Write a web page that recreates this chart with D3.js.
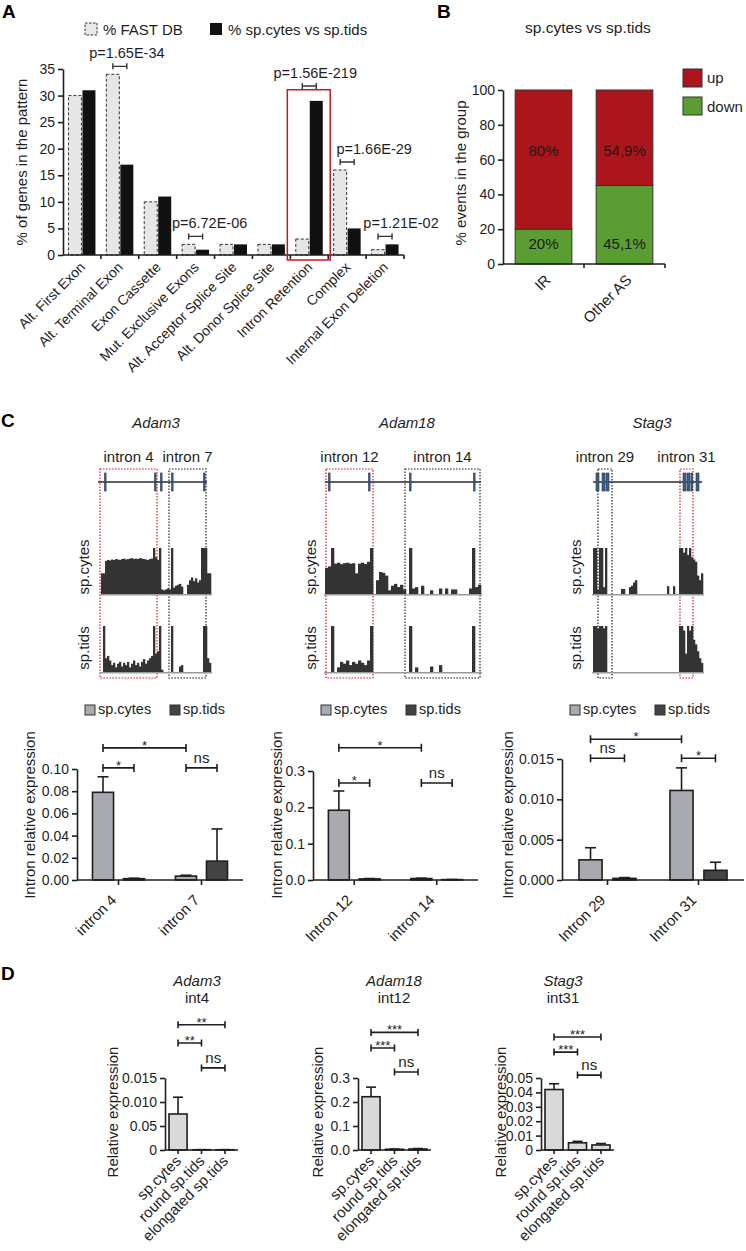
<!DOCTYPE html>
<html><head><meta charset="utf-8">
<script src="https://cdn.jsdelivr.net/npm/d3@7"></script>
<style>body{margin:0;background:#fff} svg{display:block}</style>
</head><body><svg id="fig" width="746" height="1251"></svg>
<script>
// ================= DATA =================
// Panel A
const aCategories = ["Alt. First Exon","Alt. Terminal Exon","Exon Cassette","Mut. Exclusive Exons","Alt. Acceptor Splice Site","Alt. Donor Splice Site","Intron Retention","Complex","Internal Exon Deletion"];
const aSeries = ["% FAST DB","% sp.cytes vs sp.tids"];
const aFastDB = [30,34,10,2,2,2,3,16,1];
const aCytesVsTids = [31,17,11,1,2,2,29,5,2];
const aYTicks = [0,5,10,15,20,25,30,35];
const aPValues = [
  {category:"Alt. Terminal Exon", label:"p=1.65E-34"},
  {category:"Mut. Exclusive Exons", label:"p=6.72E-06"},
  {category:"Intron Retention", label:"p=1.56E-219"},
  {category:"Complex", label:"p=1.66E-29"},
  {category:"Internal Exon Deletion", label:"p=1.21E-02"}
];
const aHighlight = "Intron Retention";

// Panel B
const bTitle = "sp.cytes vs sp.tids";
const bCategories = ["IR","Other AS"];
const bSeries = ["up","down"];
const bUp = [80,54.9];
const bDown = [20,45.1];
const bUpLabels = ["80%","54,9%"];
const bDownLabels = ["20%","45,1%"];
const bYTicks = [0,20,40,60,80,100];

// Panel C - gene tracks (genomic units, coverage in % of track max)
const adam3Length = 110, adam3Span = [-3,106];
const adam3Exons = [[3.5,5],[53.5,55],[59.5,61],[70.5,72],[102.5,104]];
const adam3Introns = [{name:"intron 4", span:[-1,56], hl:true},{name:"intron 7", span:[68,105], hl:false}];
const adam3CovCytes = [45,45,72,74,73,75,74,76,75,74,76,77,75,76,77,78,76,77,76,78,77,76,75,74,76,77,100,80,74,100,10,8,10,12,10,100,14,18,20,22,16,0,0,20,30,36,28,34,25,30,100,100,100,45,45];
const adam3CovTids = [0,100,30,35,25,15,20,10,18,22,12,20,15,22,10,18,25,15,20,12,22,28,18,25,30,35,100,40,45,100,5,0,0,0,0,100,0,0,0,12,15,0,0,0,0,0,0,0,0,0,0,100,100,30,20];

const adam18Length = 156, adam18Span = [0,156];
const adam18Exons = [[3.5,5],[43.5,45],[84.5,86],[148.5,150]];
const adam18Introns = [{name:"intron 12", span:[1,48], hl:true},{name:"intron 14", span:[80,155], hl:false}];
const adam18CovCytes = [57,60,100,66,68,65,67,68,66,67,45,66,68,65,70,100,0,30,48,46,40,8,18,22,15,20,10,0,100,12,15,0,18,0,0,8,0,0,12,0,12,0,10,10,0,0,0,0,12,100,15,20];
const adam18CovTids = [0,0,100,0,10,22,18,25,15,22,18,25,20,15,25,100,0,0,0,0,0,0,0,0,0,0,0,0,100,0,10,0,0,0,0,12,0,0,15,0,0,0,0,0,0,0,0,0,0,100,0,0];

const stag3Length = 110, stag3Span = [0,109];
const stag3Exons = [[3,6],[9,12],[13,16],[90,93],[94,97],[98,99.5],[103,106]];
const stag3Introns = [{name:"intron 29", span:[5,19], hl:false},{name:"intron 31", span:[87,100], hl:true}];
const stag3CovCytes = [100,100,10,100,100,15,100,0,0,0,0,0,0,0,11,11,0,0,15,18,25,30,0,0,0,0,0,0,0,0,0,0,0,0,0,0,0,17,0,0,17,0,0,100,100,90,100,85,100,80,75,70,40,30,45];
const stag3CovTids = [100,100,95,100,100,95,100,0,0,0,0,0,0,0,0,0,0,0,0,0,0,0,0,0,0,0,0,0,0,0,0,0,0,0,0,0,0,0,0,0,0,0,0,100,100,90,40,100,90,100,70,60,45,30,20];

// Panel C - intron qPCR
const cSeries = ["sp.cytes","sp.tids"];
const cAdam3Introns = ["intron 4","intron 7"];
const cAdam3Cytes = [0.079,0.0035], cAdam3CytesErr = [0.014,0.0008];
const cAdam3Tids = [0.0012,0.017], cAdam3TidsErr = [0.0004,0.029];
const cAdam3Ticks = [0,0.02,0.04,0.06,0.08,0.10];
const cAdam3Sig = [{i1:0,s1:0,i2:1,s2:0,label:"*",level:0.119},{i1:0,s1:0,i2:0,s2:1,label:"*",level:0.101},{i1:1,s1:0,i2:1,s2:1,label:"ns",level:0.101}];

const cAdam18Introns = ["Intron 12","intron 14"];
const cAdam18Cytes = [0.192,0.004], cAdam18CytesErr = [0.053,0.001];
const cAdam18Tids = [0.003,0.001], cAdam18TidsErr = [0.001,0.0005];
const cAdam18Ticks = [0,0.1,0.2,0.3];
const cAdam18Sig = [{i1:0,s1:0,i2:1,s2:0,label:"*",level:0.364},{i1:0,s1:0,i2:0,s2:1,label:"*",level:0.267},{i1:1,s1:0,i2:1,s2:1,label:"ns",level:0.267}];

const cStag3Introns = ["Intron 29","Intron 31"];
const cStag3Cytes = [0.0025,0.0111], cStag3CytesErr = [0.0015,0.0028];
const cStag3Tids = [0.0002,0.0012], cStag3TidsErr = [0.0001,0.001];
const cStag3Ticks = [0,0.005,0.010,0.015];
const cStag3Sig = [{i1:0,s1:0,i2:1,s2:0,label:"*",level:0.01744},{i1:0,s1:0,i2:0,s2:1,label:"ns",level:0.0151},{i1:1,s1:0,i2:1,s2:1,label:"*",level:0.0151}];

// Panel D
const dCategories = ["sp.cytes","round sp.tids","elongated sp.tids"];
const dAdam3Mean = [0.0075,0.00005,0.00005], dAdam3Err = [0.0035,0.00002,0.00002];
const dAdam3Ticks = [0,0.005,0.010,0.015], dAdam3TickLabels = ["0","0.05","0.010","0.015"];
const dAdam3Sig = [{a:0,b:2,label:"**",level:0.0261},{a:0,b:1,label:"**",level:0.0223},{a:1,b:2,label:"ns",level:0.0171}];
const dAdam18Mean = [0.222,0.003,0.004], dAdam18Err = [0.04,0.001,0.002];
const dAdam18Ticks = [0,0.1,0.2,0.3], dAdam18TickLabels = ["0.0","0.1","0.2","0.3"];
const dAdam18Sig = [{a:0,b:2,label:"***",level:0.49},{a:0,b:1,label:"***",level:0.425},{a:1,b:2,label:"ns",level:0.325}];
const dStag3Mean = [0.042,0.005,0.0035], dStag3Err = [0.004,0.001,0.001];
const dStag3Ticks = [0,0.01,0.02,0.03,0.04,0.05], dStag3TickLabels = ["0","0.01","0.02","0.03","0.04","0.05"];
const dStag3Sig = [{a:0,b:2,label:"***",level:0.0785},{a:0,b:1,label:"***",level:0.068},{a:1,b:2,label:"ns",level:0.052}];

// ================= DRAWING =================
const FONT = "'Liberation Sans', Arial, Helvetica, sans-serif";
const INK = "#1e1e1e";
const svg = d3.select("#fig").attr("font-family", FONT);
svg.append("rect").attr("width",746).attr("height",1251).attr("fill","#fff");

function text(g, x, y, s, o = {}) {
  const t = g.append("text").attr("x", x).attr("y", y).text(s)
    .attr("font-size", o.size || 15).attr("fill", o.fill || INK)
    .attr("text-anchor", o.anchor || "start");
  if (o.weight) t.attr("font-weight", o.weight);
  if (o.italic) t.attr("font-style", "italic");
  if (o.rotate !== undefined) t.attr("transform", `rotate(${o.rotate},${x},${y})`);
  return t;
}
function yAxis(g, scale, ticks, x, fmt) {
  const ax = d3.axisLeft(scale).tickValues(ticks).tickSize(5).tickSizeOuter(0).tickPadding(3);
  if (fmt) ax.tickFormat(fmt);
  const gg = g.append("g").attr("transform", `translate(${x},0)`).call(ax)
    .attr("font-family", FONT).attr("font-size", 14);
  gg.select(".domain").attr("stroke", INK).attr("stroke-width", 1.6);
  gg.selectAll(".tick line").attr("stroke", INK).attr("stroke-width", 1.6);
  gg.selectAll(".tick text").attr("fill", INK);
  return gg;
}
function bracket(g, x1, x2, y, label, cap, size) {
  g.append("path").attr("d", `M${x1},${y-cap}V${y+cap}M${x1},${y}H${x2}M${x2},${y-cap}V${y+cap}`)
    .attr("stroke", INK).attr("stroke-width", 1.6).attr("fill", "none");
  if (label) {
    const star = label.indexOf("*") >= 0;
    text(g, (x1+x2)/2, star ? y + 2 : y - 5, label, {anchor:"middle", size: star ? 13 : (size || 15)});
  }
}

// ---------- Panel A ----------
(function(){
  const g = svg.append("g");
  text(g, 2, 18, "A", {size:19, weight:"bold", fill:"#000"});
  const x = d3.scaleBand().domain(aCategories).range([63, 404]);
  const xi = d3.scaleBand().domain(aSeries).range([0, x.bandwidth()]).paddingInner(0.07).paddingOuter(0.39);
  const y = d3.scaleLinear().domain([0,35]).range([255, 69]);
  const seriesVals = [aFastDB, aCytesVsTids];
  g.append("rect").attr("x",85).attr("y",23).attr("width",12).attr("height",12)
    .attr("fill","#e8e8e8").attr("stroke","#333").attr("stroke-dasharray","2.5,1.5");
  text(g, 103, 35, aSeries[0], {size:15});
  g.append("rect").attr("x",210).attr("y",23).attr("width",12).attr("height",12).attr("fill","#111");
  text(g, 228, 35, aSeries[1], {size:15});
  aCategories.forEach((c,i)=>{
    seriesVals.forEach((vals,s)=>{
      const r = g.append("rect").attr("x", x(c)+xi(aSeries[s])).attr("width", xi.bandwidth())
        .attr("y", y(vals[i])).attr("height", y(0)-y(vals[i]));
      if (s===0) r.attr("fill","#e6e6e6").attr("stroke","#333").attr("stroke-width",1).attr("stroke-dasharray","3,2");
      else r.attr("fill","#111");
    });
  });
  yAxis(g, y, aYTicks, 63);
  g.append("line").attr("x1",63).attr("x2",404).attr("y1",255).attr("y2",255).attr("stroke",INK).attr("stroke-width",1.6);
  aCategories.forEach(c=>{
    const tx = x(c)+x.bandwidth();
    g.append("line").attr("x1",tx).attr("x2",tx).attr("y1",255).attr("y2",259).attr("stroke",INK).attr("stroke-width",1.6);
    text(g, x(c)+x.bandwidth()/2+4, 268, c, {anchor:"end", rotate:-45, size:14});
  });
  text(g, 27, 162, "% of genes in the pattern", {anchor:"middle", rotate:-90, size:15});
  const hi = aCategories.indexOf(aHighlight);
  const boxTop = Math.max(aFastDB[hi], aCytesVsTids[hi]) + 2.1;
  g.append("rect").attr("x", x(aHighlight)-3).attr("y", y(boxTop))
    .attr("width", x.bandwidth()+5).attr("height", y(0)+5-y(boxTop))
    .attr("fill","none").attr("stroke","#c8161d").attr("stroke-width",1.5);
  const shift = {"Alt. Terminal Exon":7,"Mut. Exclusive Exons":14,"Intron Retention":6,"Complex":27,"Internal Exon Deletion":16};
  aPValues.forEach(p=>{
    const i = aCategories.indexOf(p.category);
    const lvl = p.category===aHighlight ? boxTop+0.7 : Math.max(aFastDB[i], aCytesVsTids[i]) + 1.5;
    const x1 = x(p.category)+xi(aSeries[0])+xi.bandwidth()/2;
    const x2 = x(p.category)+xi(aSeries[1])+xi.bandwidth()/2;
    const yy = y(lvl);
    g.append("path").attr("d",`M${x1},${yy-3}V${yy+3}M${x1},${yy}H${x2}M${x2},${yy-3}V${yy+3}`)
      .attr("stroke","#333").attr("stroke-width",1.4).attr("fill","none");
    text(g, (x1+x2)/2 + shift[p.category], yy-8, p.label, {anchor:"middle", size:14.5});
  });
})();

// ---------- Panel B ----------
(function(){
  const g = svg.append("g");
  text(g, 437, 18, "B", {size:19, weight:"bold", fill:"#000"});
  text(g, 588, 33, bTitle, {anchor:"middle", size:15.5});
  const x = d3.scaleBand().domain(bCategories).range([503, 665]).paddingInner(0.3).paddingOuter(0.15);
  const y = d3.scaleLinear().domain([0,100]).range([264, 90]);
  const RED = "#ad151c", GREEN = "#5a9e33";
  bCategories.forEach((c,i)=>{
    g.append("rect").attr("x",x(c)).attr("width",x.bandwidth()).attr("y",y(bDown[i])).attr("height",y(0)-y(bDown[i]))
      .attr("fill",GREEN).attr("stroke","#333").attr("stroke-width",1);
    g.append("rect").attr("x",x(c)).attr("width",x.bandwidth()).attr("y",y(bDown[i]+bUp[i])).attr("height",y(bDown[i])-y(bDown[i]+bUp[i]))
      .attr("fill",RED).attr("stroke","#333").attr("stroke-width",1);
    text(g, x(c)+x.bandwidth()/2, y(65)+5, bUpLabels[i], {anchor:"middle", size:15, fill:"#1a1a1a"});
    text(g, x(c)+x.bandwidth()/2, y(11.5)+5, bDownLabels[i], {anchor:"middle", size:15, fill:"#1a1a1a"});
    text(g, x(c)+x.bandwidth()/2+8, 281, c, {anchor:"end", rotate:-45, size:15});
  });
  yAxis(g, y, bYTicks, 503);
  g.append("line").attr("x1",503).attr("x2",665).attr("y1",264).attr("y2",264).attr("stroke",INK).attr("stroke-width",1.6);
  [x(bCategories[1]) - x.step()*x.paddingInner()/2, 665].forEach(tx=>
    g.append("line").attr("x1",tx).attr("x2",tx).attr("y1",264).attr("y2",268).attr("stroke",INK).attr("stroke-width",1.6));
  text(g, 466, 173, "% events in the group", {anchor:"middle", rotate:-90, size:15});
  g.append("rect").attr("x",683).attr("y",69).attr("width",19).attr("height",18).attr("fill",RED).attr("stroke","#333");
  text(g, 707, 83, bSeries[0], {size:15});
  g.append("rect").attr("x",683).attr("y",97).attr("width",19).attr("height",18).attr("fill",GREEN).attr("stroke","#333");
  text(g, 707, 112, bSeries[1], {size:15});
})();

// ---------- Panel C: tracks ----------
text(svg, 1, 427, "C", {size:19, weight:"bold", fill:"#000"});
function drawTrack(T, L) {
  const g = svg.append("g");
  const xg = d3.scaleLinear().domain([0, T.length]).range(L.xRange);
  const cx = (L.xRange[0]+L.xRange[1])/2;
  text(g, cx+L.titleDx, 428, T.gene, {anchor:"middle", italic:true, size:15});
  T.introns.forEach(b=>{
    g.append("rect").attr("x", xg(b.span[0])).attr("y", 469).attr("width", xg(b.span[1])-xg(b.span[0]))
      .attr("height", 209).attr("fill","none").attr("stroke", b.hl ? "#d31f26" : "#222")
      .attr("stroke-width",1.2).attr("stroke-dasharray","1.6,1.4");
    text(g, (xg(b.span[0])+xg(b.span[1]))/2, 462, b.name, {anchor:"middle", size:15});
  });
  g.append("line").attr("x1", xg(T.span[0])).attr("x2", xg(T.span[1])).attr("y1",482).attr("y2",482)
    .attr("stroke","#2b2b2b").attr("stroke-width",1.5);
  T.exons.forEach(e=>{
    g.append("rect").attr("x", xg(e[0])).attr("y", 473).attr("width", Math.max(1.6, xg(e[1])-xg(e[0])))
      .attr("height", 18).attr("fill","#3e5f8a").attr("stroke","#24364f").attr("stroke-width",0.6);
  });
  [[T.cytes, 594, "sp.cytes", 567],[T.tids, 672, "sp.tids", 648]].forEach(([vals, base, lab, ly])=>{
    const yc = d3.scaleLinear().domain([0,100]).range([base, base-46]);
    const bw = T.length/vals.length;
    g.append("line").attr("x1", L.xRange[0]-1).attr("x2", L.xRange[1]+1).attr("y1", base+0.8).attr("y2", base+0.8)
      .attr("stroke","#9a9a9a").attr("stroke-width",1.6);
    g.selectAll(null).data(vals).join("rect")
      .attr("x",(d,i)=>xg(i*bw)).attr("width", xg(bw)-xg(0)+0.3)
      .attr("y", d=>yc(d)).attr("height", d=>base-yc(d)).attr("fill","#333");
    text(g, L.labelX, ly, lab, {anchor:"middle", rotate:-90, size:15});
  });
}
drawTrack({gene:"Adam3", length:adam3Length, span:adam3Span, exons:adam3Exons, introns:adam3Introns, cytes:adam3CovCytes, tids:adam3CovTids},
  {xRange:[101,211], titleDx:0, labelX:89});
drawTrack({gene:"Adam18", length:adam18Length, span:adam18Span, exons:adam18Exons, introns:adam18Introns, cytes:adam18CovCytes, tids:adam18CovTids},
  {xRange:[325,481], titleDx:4, labelX:316});
drawTrack({gene:"Stag3", length:stag3Length, span:stag3Span, exons:stag3Exons, introns:stag3Introns, cytes:stag3CovCytes, tids:stag3CovTids},
  {xRange:[593,703], titleDx:4, labelX:581});

// ---------- Panel C: intron bars ----------
function drawIntronBars(C, L) {
  const g = svg.append("g");
  const x = d3.scaleBand().domain(C.introns).range(L.xRange);
  const xi = d3.scaleBand().domain(cSeries).range([0, x.bandwidth()]).paddingInner(0.32).paddingOuter(0.5);
  const y = d3.scaleLinear().domain([0, C.ticks[C.ticks.length-1]]).range([880, L.yTop]);
  const fills = ["#a9a9b0","#434343"];
  g.append("rect").attr("x",L.xRange[0]+8).attr("y",705).attr("width",10).attr("height",10).attr("fill",fills[0]).attr("stroke","#333");
  text(g, L.xRange[0]+21, 714, cSeries[0], {size:14.5});
  g.append("rect").attr("x",L.xRange[0]+93).attr("y",705).attr("width",10).attr("height",10).attr("fill",fills[1]).attr("stroke","#333");
  text(g, L.xRange[0]+106, 714, cSeries[1], {size:14.5});
  const vals = [C.cytes, C.tids], errs = [C.cytesErr, C.tidsErr];
  const bc = (i,s) => x(C.introns[i]) + xi(cSeries[s]) + xi.bandwidth()/2;
  C.introns.forEach((c,i)=>{
    [0,1].forEach(s=>{
      const v = vals[s][i], e = errs[s][i], cxp = bc(i,s);
      g.append("line").attr("x1",cxp).attr("x2",cxp).attr("y1",y(v)).attr("y2",y(v+e)).attr("stroke",INK).attr("stroke-width",1.6);
      g.append("line").attr("x1",cxp-5.5).attr("x2",cxp+5.5).attr("y1",y(v+e)).attr("y2",y(v+e)).attr("stroke",INK).attr("stroke-width",1.6);
      g.append("rect").attr("x", x(c)+xi(cSeries[s])).attr("width", xi.bandwidth())
        .attr("y", y(v)).attr("height", y(0)-y(v)).attr("fill", fills[s]).attr("stroke", INK).attr("stroke-width",1.6);
    });
  });
  yAxis(g, y, C.ticks, L.xRange[0], C.fmt);
  g.append("line").attr("x1",L.xRange[0]).attr("x2",L.xRange[1]).attr("y1",880).attr("y2",880).attr("stroke",INK).attr("stroke-width",1.6);
  C.introns.forEach(c=>{
    const tx = x(c)+x.bandwidth()/2;
    g.append("line").attr("x1",tx).attr("x2",tx).attr("y1",880).attr("y2",885).attr("stroke",INK).attr("stroke-width",1.6);
    text(g, tx-1, 901, c, {anchor:"end", rotate:-45, size:15});
  });
  C.sig.forEach(s=> bracket(g, bc(s.i1,s.s1), bc(s.i2,s.s2), y(s.level), s.label, 4));
  text(g, L.labelX, 815, "Intron relative expression", {anchor:"middle", rotate:-90, size:15});
}
drawIntronBars({introns:cAdam3Introns, cytes:cAdam3Cytes, cytesErr:cAdam3CytesErr, tids:cAdam3Tids, tidsErr:cAdam3TidsErr, ticks:cAdam3Ticks, fmt:d3.format(".2f"), sig:cAdam3Sig},
  {xRange:[77,243], yTop:769, labelX:35});
drawIntronBars({introns:cAdam18Introns, cytes:cAdam18Cytes, cytesErr:cAdam18CytesErr, tids:cAdam18Tids, tidsErr:cAdam18TidsErr, ticks:cAdam18Ticks, fmt:d3.format(".1f"), sig:cAdam18Sig},
  {xRange:[313,478], yTop:771, labelX:282});
drawIntronBars({introns:cStag3Introns, cytes:cStag3Cytes, cytesErr:cStag3CytesErr, tids:cStag3Tids, tidsErr:cStag3TidsErr, ticks:cStag3Ticks, fmt:d3.format(".3f"), sig:cStag3Sig},
  {xRange:[562,744], yTop:759, labelX:513});

// ---------- Panel D ----------
text(svg, 1, 980, "D", {size:19, weight:"bold", fill:"#000"});
function drawD(D, L) {
  const g = svg.append("g");
  const x = d3.scaleBand().domain(dCategories).range(L.xRange).paddingInner(0.23).paddingOuter(0.17);
  const y = d3.scaleLinear().domain([0, D.ticks[D.ticks.length-1]]).range([1150, 1078]);
  text(g, L.titleX, 986, D.gene, {anchor:"middle", italic:true, size:15});
  text(g, L.titleX, 1003, D.intron, {anchor:"middle", size:15});
  const bc = i => x(dCategories[i]) + x.bandwidth()/2;
  dCategories.forEach((c,i)=>{
    const v = D.mean[i], e = D.err[i];
    g.append("line").attr("x1",bc(i)).attr("x2",bc(i)).attr("y1",y(v)).attr("y2",y(v+e)).attr("stroke",INK).attr("stroke-width",1.6);
    g.append("line").attr("x1",bc(i)-5).attr("x2",bc(i)+5).attr("y1",y(v+e)).attr("y2",y(v+e)).attr("stroke",INK).attr("stroke-width",1.6);
    g.append("rect").attr("x",x(c)).attr("width",x.bandwidth()).attr("y",y(v)).attr("height",y(0)-y(v))
      .attr("fill","#d9d9d9").attr("stroke",INK).attr("stroke-width",1.6);
  });
  yAxis(g, y, D.ticks, L.xRange[0], (d,i)=>D.tickLabels[i]);
  g.append("line").attr("x1",L.xRange[0]).attr("x2",L.xRange[1]).attr("y1",1150).attr("y2",1150).attr("stroke",INK).attr("stroke-width",1.6);
  dCategories.forEach((c,i)=>{
    g.append("line").attr("x1",bc(i)).attr("x2",bc(i)).attr("y1",1150).attr("y2",1154).attr("stroke",INK).attr("stroke-width",1.6);
    text(g, bc(i)+4, 1162, c, {anchor:"end", rotate:-45, size:15});
  });
  D.sig.forEach(s=> bracket(g, bc(s.a), bc(s.b), y(s.level), s.label, 3.5));
  text(g, L.labelX, 1112, "Relative expression", {anchor:"middle", rotate:-90, size:15});
}
drawD({gene:"Adam3", intron:"int4", mean:dAdam3Mean, err:dAdam3Err, ticks:dAdam3Ticks, tickLabels:dAdam3TickLabels, sig:dAdam3Sig},
  {xRange:[165,238], titleX:197, labelX:118});
drawD({gene:"Adam18", intron:"int12", mean:dAdam18Mean, err:dAdam18Err, ticks:dAdam18Ticks, tickLabels:dAdam18TickLabels, sig:dAdam18Sig},
  {xRange:[358,431], titleX:394, labelX:323});
drawD({gene:"Stag3", intron:"int31", mean:dStag3Mean, err:dStag3Err, ticks:dStag3Ticks, tickLabels:dStag3TickLabels, sig:dStag3Sig},
  {xRange:[541,614], titleX:563, labelX:506});
</script>
</body></html>
